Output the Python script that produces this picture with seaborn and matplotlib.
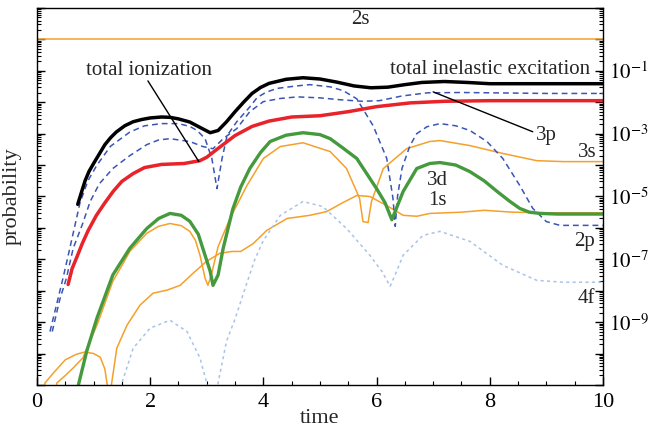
import numpy as np
import pandas as pd
import seaborn as sns
import matplotlib
matplotlib.use("Agg")
import matplotlib.pyplot as plt
from matplotlib import ticker

# values: time and log10(probability)
t_2s = [0.0, 10.0]
lg_2s = [0.0, 0.0]

t_1s = [0.1, 0.14, 0.3, 0.5, 0.7, 0.85, 1.0, 1.12, 1.2, 1.25, 1.28, 1.32, 1.41, 1.59, 1.82, 2.05,
        2.3, 2.53, 2.76, 3.0, 3.23, 3.45, 3.6, 3.82, 4.06, 4.42, 4.82, 5.12, 5.4, 5.65, 5.88,
        6.18, 6.47, 6.71, 6.94, 7.5, 7.9, 8.4, 9.0, 10.0]
lg_1s = [-11.5, -10.94, -10.6, -10.2, -10.02, -9.95, -10.0, -10.12, -10.5, -11.1, -12.0, -10.94,
         -9.83, -9.1, -8.46, -8.08, -7.98, -7.83, -7.44, -7.06, -6.81, -6.75, -6.75, -6.5, -6.08,
         -5.7, -5.6, -5.48, -5.2, -4.97, -5.0, -5.29, -5.6, -5.63, -5.54, -5.5, -5.44, -5.5,
         -5.52, -5.52]

t_3s = [0.32, 0.35, 0.5, 0.64, 0.81, 0.95, 1.06, 1.2, 1.34, 1.5, 1.64, 1.94, 2.15, 2.35, 2.55,
        2.7, 2.8, 2.88, 2.97, 3.02, 3.08, 3.2, 3.41, 3.71, 4.0, 4.3, 4.7, 5.18, 5.47, 5.7, 5.76,
        5.85, 5.91, 6.12, 6.53, 6.94, 7.12, 7.65, 8.23, 8.83, 9.3, 10.0]
lg_3s = [-11.5, -10.94, -10.7, -10.46, -10.14, -9.55, -9.1, -8.4, -7.7, -7.2, -6.75, -6.17,
         -5.95, -5.86, -5.93, -6.11, -6.4, -6.87, -7.6, -7.83, -7.5, -6.6, -5.7, -4.65, -3.79,
         -3.41, -3.29, -3.57, -4.11, -5.06, -5.8, -5.83, -5.16, -4.11, -3.48, -3.25, -3.22,
         -3.38, -3.63, -3.86, -3.89, -3.89]

t_2p = [0.23, 0.46, 0.58, 0.76, 0.9, 1.06, 1.3, 1.64, 1.9, 2.2, 2.5, 2.7, 2.83, 2.97, 3.09, 3.18,
        3.27, 3.36, 3.53, 3.76, 3.89, 4.05, 4.24, 4.59, 4.82, 5.18, 5.41, 5.65, 5.94, 6.18, 6.29,
        6.33, 6.37, 6.45, 6.59, 6.71, 6.89, 7.12, 7.4, 7.65, 7.95, 8.23, 8.53, 8.76, 9.0, 9.24,
        10.0]
lg_2p = [-9.3, -7.6, -6.65, -5.2, -4.5, -4.0, -3.4, -2.95, -2.75, -2.68, -2.68, -2.77, -2.9,
         -3.16, -3.79, -4.75, -3.79, -3.06, -2.62, -2.15, -1.85, -1.68, -1.56, -1.48, -1.44,
         -1.51, -1.63, -1.89, -2.75, -3.79, -5.06, -5.95, -5.0, -4.1, -3.38, -3.0, -2.78, -2.68,
         -2.75, -2.9, -3.25, -3.79, -4.65, -5.38, -5.8, -5.92, -5.92]

t_3p = [0.27, 0.4, 0.52, 0.64, 0.8, 0.94, 1.1, 1.34, 1.64, 1.94, 2.15, 2.35, 2.7, 2.93, 3.11,
        3.29, 3.53, 3.76, 4.0, 4.3, 4.6, 5.0, 5.35, 5.75, 6.05, 6.45, 6.9, 7.5, 8.0, 9.0, 10.0]
lg_3p = [-9.3, -8.3, -7.6, -6.65, -5.9, -5.16, -4.6, -4.11, -3.7, -3.35, -3.2, -3.16, -3.25,
         -3.41, -3.48, -3.16, -2.84, -2.3, -1.98, -1.88, -1.83, -1.86, -1.92, -1.97, -1.95,
         -1.8, -1.7, -1.69, -1.7, -1.72, -1.72]

t_3d = [0.7, 0.74, 0.88, 1.06, 1.34, 1.64, 1.94, 2.15, 2.35, 2.55, 2.7, 2.85, 2.93, 3.06, 3.11,
        3.2, 3.29, 3.46, 3.6, 3.76, 3.95, 4.12, 4.4, 4.7, 5.0, 5.18, 5.4, 5.65, 6.0, 6.15, 6.27,
        6.47, 6.71, 6.94, 7.12, 7.4, 7.65, 7.9, 8.13, 8.35, 8.53, 8.7, 8.89, 9.2, 10.0]
lg_3d = [-11.3, -10.94, -9.92, -8.87, -7.5, -6.65, -6.02, -5.7, -5.54, -5.6, -5.79, -6.2, -6.65,
         -7.38, -7.83, -7.5, -6.65, -5.4, -4.7, -4.11, -3.6, -3.25, -3.05, -2.97, -3.03, -3.16,
         -3.45, -3.79, -4.75, -5.2, -5.74, -4.84, -4.11, -3.95, -3.92, -4.0, -4.21, -4.5, -4.84,
         -5.15, -5.38, -5.5, -5.54, -5.56, -5.56]

t_4f = [1.45, 1.5, 1.7, 2.0, 2.35, 2.65, 2.88, 3.0, 3.05, 3.15, 3.2, 3.35, 3.5, 3.7, 3.85, 4.0,
        4.3, 4.7, 5.05, 5.47, 5.88, 6.1, 6.24, 6.35, 6.47, 6.82, 7.12, 7.65, 8.23, 8.83, 9.3, 10.0]
lg_4f = [-11.3, -10.94, -9.83, -9.19, -8.94, -9.3, -10.14, -10.94, -11.5, -11.5, -10.94, -9.6,
         -8.9, -7.8, -7.0, -6.4, -5.6, -5.16, -5.32, -6.02, -6.87, -7.4, -7.86, -7.4, -6.87,
         -6.24, -6.11, -6.43, -7.19, -7.67, -7.73, -7.73]

t_ion = [0.55, 0.62, 0.7, 0.8, 0.9, 1.05, 1.2, 1.35, 1.5, 1.7, 1.9, 2.2, 2.6, 2.88, 3.0, 3.2,
         3.5, 3.8, 4.1, 4.5, 5.0, 5.5, 6.0, 6.6, 7.2, 8.0, 9.0, 10.0]
lg_ion = [-7.8, -7.3, -6.95, -6.5, -6.1, -5.6, -5.2, -4.83, -4.52, -4.27, -4.08, -3.98, -3.95,
          -3.86, -3.75, -3.47, -3.06, -2.77, -2.6, -2.47, -2.43, -2.3, -2.14, -2.02, -1.97,
          -1.95, -1.95, -1.95]

t_exc = [0.72, 0.78, 0.85, 0.92, 1.0, 1.1, 1.2, 1.3, 1.4, 1.55, 1.7, 1.85, 2.0, 2.2, 2.35, 2.5,
         2.7, 2.9, 3.06, 3.2, 3.35, 3.5, 3.65, 3.8, 3.95, 4.1, 4.4, 4.7, 5.0, 5.3, 5.6, 5.9, 6.2,
         6.5, 6.8, 7.2, 7.6, 8.0, 9.0, 10.0]
lg_exc = [-5.25, -4.9, -4.5, -4.2, -3.95, -3.65, -3.35, -3.13, -2.95, -2.75, -2.62, -2.55,
          -2.5, -2.47, -2.48, -2.53, -2.63, -2.82, -2.97, -2.9, -2.62, -2.3, -2.0, -1.72, -1.53,
          -1.4, -1.27, -1.22, -1.26, -1.36, -1.48, -1.54, -1.52, -1.44, -1.37, -1.34, -1.37,
          -1.41, -1.41, -1.41]

ORANGE = "#f5a02a"
GREEN = "#449a3c"
RED = "#e8232a"
DBLUE = "#3a55b4"
LBLUE = "#a9c3e6"

sns.set_theme(style="ticks")
plt.rcParams["font.family"] = ["Liberation Serif", "DejaVu Serif"]
plt.rcParams["mathtext.fontset"] = "stix"

fig = plt.figure(figsize=(6.51, 4.33), dpi=100)
ax = fig.add_axes([0.0568, 0.111, 0.8694, 0.8705])

curves = [
    (t_2s, lg_2s, ORANGE, 1.1, None),
    (t_1s, lg_1s, ORANGE, 1.1, None),
    (t_3s, lg_3s, ORANGE, 1.1, None),
    (t_4f, lg_4f, LBLUE, 1.1, (2.0, 2.2)),
    (t_2p, lg_2p, DBLUE, 1.1, (3.8, 2.6)),
    (t_3p, lg_3p, DBLUE, 1.1, (3.8, 2.6)),
    (t_3d, lg_3d, GREEN, 2.4, None),
    (t_ion, lg_ion, RED, 2.5, None),
    (t_exc, lg_exc, "black", 2.5, None),
]

for t, lg, color, lw, dash in curves:
    df = pd.DataFrame({"time": t, "probability": 10.0 ** np.asarray(lg)})
    sns.lineplot(data=df, x="time", y="probability", ax=ax, color=color, lw=lw,
                 estimator=None, sort=False)
    if dash is not None:
        ax.lines[-1].set_dashes(dash)

ax.set_yscale("log")
ax.set_xlim(0, 10)
ax.set_ylim(1e-11, 1e1)

ax.xaxis.set_major_locator(ticker.MultipleLocator(2))
ax.xaxis.set_minor_locator(ticker.MultipleLocator(0.5))
ax.yaxis.set_major_locator(ticker.LogLocator(base=10, subs=(1.0,), numticks=30))
ax.yaxis.set_minor_locator(ticker.LogLocator(base=10, subs=np.arange(2, 10), numticks=30))


def fmt(v, pos):
    e = int(round(np.log10(v)))
    if e in (-1, -3, -5, -7, -9):
        return r"$10^{%d}$" % e
    return ""


ax.yaxis.set_major_formatter(ticker.FuncFormatter(fmt))
ax.yaxis.set_minor_formatter(ticker.NullFormatter())

ax.tick_params(axis="both", which="both", direction="in", colors="black")
ax.tick_params(axis="y", which="both", left=True, right=True, labelleft=False, labelright=True)
ax.tick_params(axis="y", which="major", length=6, width=1, labelsize=15, pad=4)
ax.tick_params(axis="y", which="minor", length=3, width=0.8)
ax.tick_params(axis="x", which="major", length=6, width=1, labelsize=16, pad=6)
ax.tick_params(axis="x", which="minor", length=3, width=0.8)

for s in ax.spines.values():
    s.set_color("black")
    s.set_linewidth(1.0)

ax.set_xlabel("time", fontsize=16, labelpad=-2)
ax.set_ylabel("probability", fontsize=16)
ax.yaxis.set_label_coords(-0.027, 0.5)

fs = 15
ax.text(5.71, 10 ** 0.62, "2s", fontsize=fs, ha="center", va="center")
ax.text(1.98, 10 ** -1.0, "total ionization", fontsize=fs, ha="center", va="center")
ax.annotate("", xy=(2.86, 10 ** -3.89), xytext=(1.96, 10 ** -1.32),
            arrowprops=dict(arrowstyle="-", color="black", lw=1.0, shrinkA=0, shrinkB=0))
ax.text(8.0, 10 ** -0.97, "total inelastic excitation", fontsize=fs, ha="center", va="center")
ax.annotate("", xy=(8.76, 10 ** -2.94), xytext=(7.0, 10 ** -1.67),
            arrowprops=dict(arrowstyle="-", color="black", lw=1.0, shrinkA=0, shrinkB=0))
ax.text(8.82, 10 ** -3.05, "3p", fontsize=fs, ha="left", va="center")
ax.text(9.72, 10 ** -3.6, "3s", fontsize=fs, ha="center", va="center")
ax.text(7.08, 10 ** -4.49, "3d", fontsize=fs, ha="center", va="center")
ax.text(7.08, 10 ** -5.13, "1s", fontsize=fs, ha="center", va="center")
ax.text(9.68, 10 ** -6.43, "2p", fontsize=fs, ha="center", va="center")
ax.text(9.70, 10 ** -8.24, "4f", fontsize=fs, ha="center", va="center")

fig.savefig("out.png", dpi=100)
